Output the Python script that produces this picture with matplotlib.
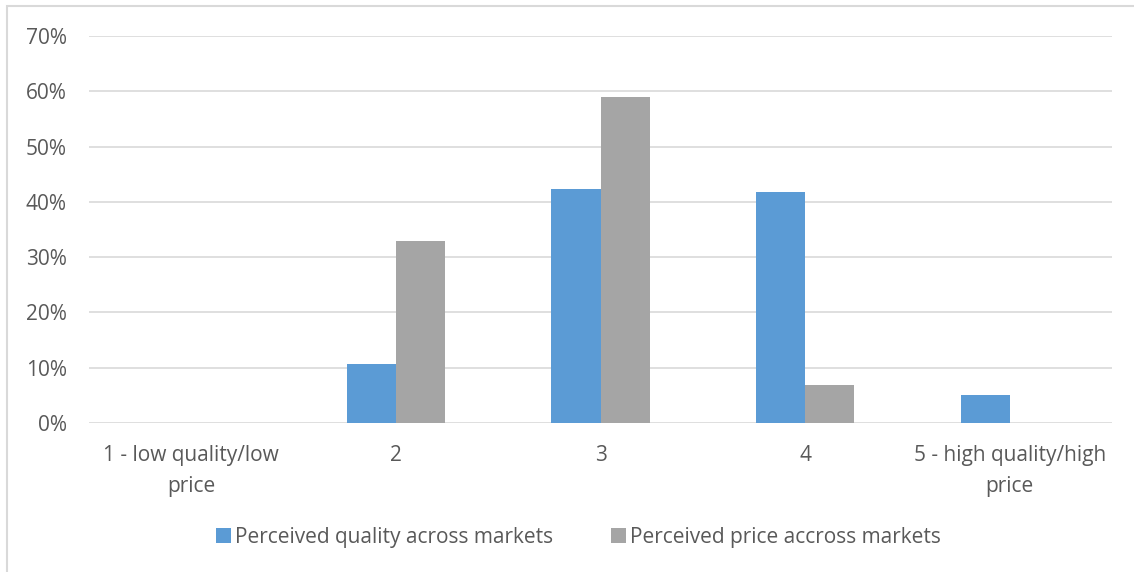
import numpy as np
import matplotlib.pyplot as plt
from matplotlib.patches import Rectangle
from matplotlib.ticker import PercentFormatter

categories = ['1 - low quality/low\nprice', '2', '3', '4', '5 - high quality/high\nprice']
quality = [0.0, 10.7, 42.3, 41.8, 5.0]
price = [0.0, 32.9, 59.0, 6.9, 0.0]
series_names = ['Perceived quality across markets', 'Perceived price accross markets']
colors = ['#5b9bd5', '#a5a5a5']

plt.rcParams['font.family'] = ['Open Sans', 'DejaVu Sans']


def main():
    fig = plt.figure(figsize=(11.34, 5.72), dpi=100)
    ax = fig.add_axes([89 / 1134, 1 - 423 / 572, (1112 - 89) / 1134, (423 - 36) / 572])

    # light frame around the chart area
    fig.patches.append(Rectangle((7 / 1134, -0.1), 1.2, 1 - 6 / 572 + 0.1,
                                 transform=fig.transFigure, fill=False,
                                 edgecolor='#d9d9d9', linewidth=1.5))

    x = np.arange(len(categories))
    w = 0.24
    ax.bar(x - w / 2, quality, w, color=colors[0], label=series_names[0], zorder=3)
    ax.bar(x + w / 2, price, w, color=colors[1], label=series_names[1], zorder=3)

    ax.set_xlim(-0.5, len(categories) - 0.5)
    ax.set_ylim(0, 70)
    ax.set_yticks(np.arange(0, 71, 10))
    ax.yaxis.set_major_formatter(PercentFormatter(decimals=0))
    ax.set_xticks(x)
    ax.set_xticklabels(categories, linespacing=1.6)
    ax.grid(axis='y', color='#d9d9d9', linewidth=1.2, zorder=0)
    for s in ax.spines.values():
        s.set_visible(False)
    ax.tick_params(length=0, labelsize=15, colors='#595959')
    ax.tick_params(axis='y', pad=16)
    ax.tick_params(axis='x', pad=16)

    fig.legend(loc='center', bbox_to_anchor=(0.51, 1 - 537 / 572), ncol=2, frameon=False,
               fontsize=15, labelcolor='#595959', handlelength=0.7, handleheight=0.7,
               handletextpad=0.2, columnspacing=2.8)

    fig.savefig('out.png')


if __name__ == '__main__':
    main()
